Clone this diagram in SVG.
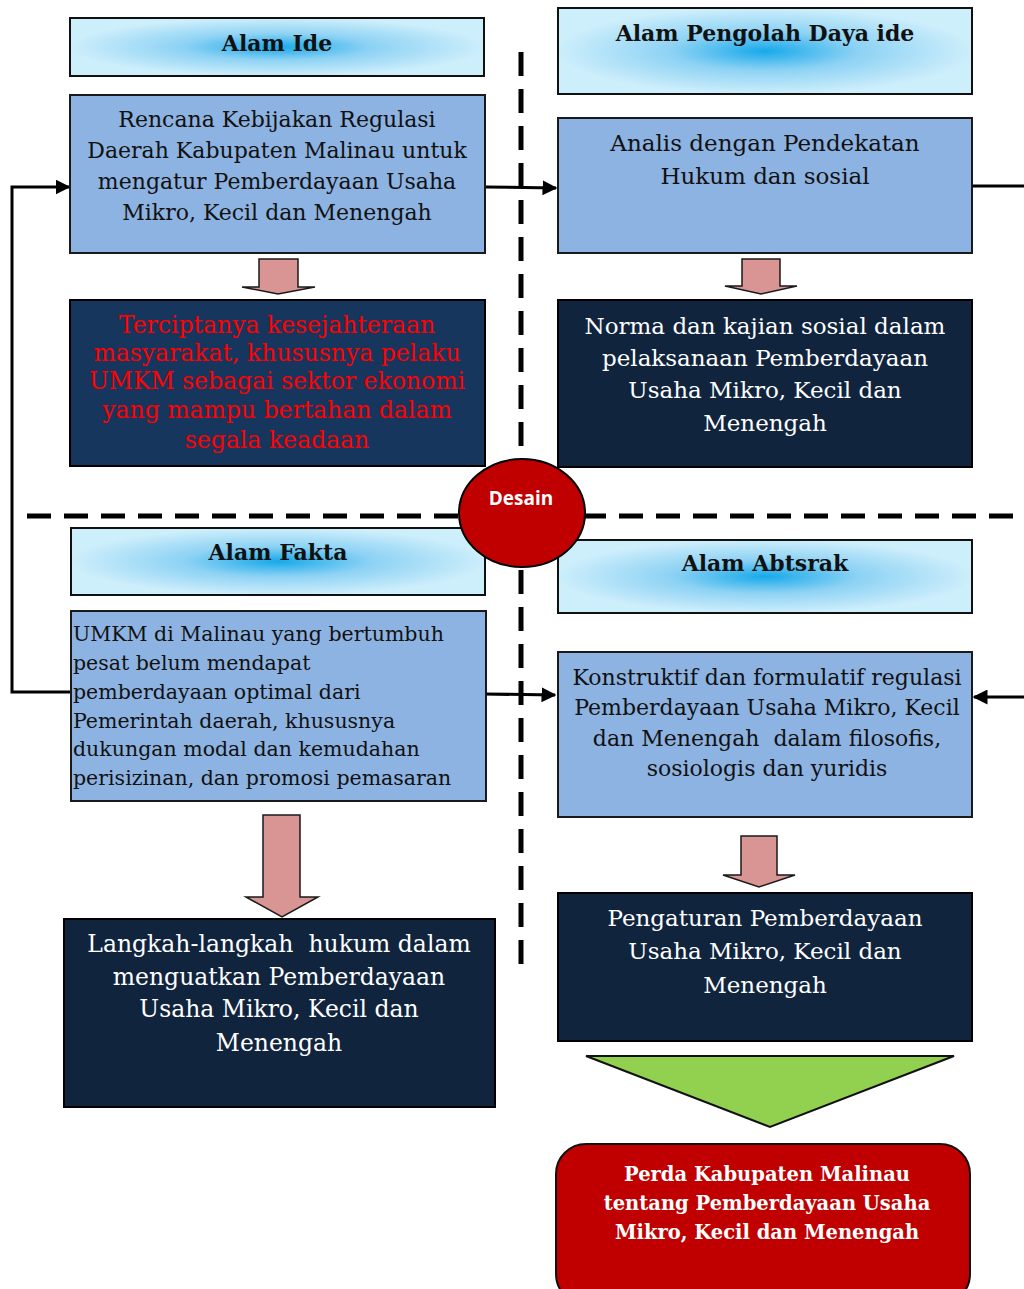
<svg xmlns="http://www.w3.org/2000/svg" width="1024" height="1289" viewBox="0 0 1024 1289">
<defs>
<radialGradient id="hdr" cx="0.5" cy="0.5" r="0.5">
<stop offset="0" stop-color="#17a9ea"/>
<stop offset="0.45" stop-color="#8dd2f4"/>
<stop offset="1" stop-color="#cdeefb"/>
</radialGradient>
<marker id="ah" viewBox="0 0 10 10" refX="9" refY="5" markerWidth="5" markerHeight="5" orient="auto" markerUnits="strokeWidth">
<path d="M0,0 L10,5 L0,10 z" fill="#000"/>
</marker>
<style>
.hdr{fill:url(#hdr);stroke:#111;stroke-width:2}
.lb{fill:#8db3e2;stroke:#1a1a1a;stroke-width:2}
.dk{fill:#10243e;stroke:#000;stroke-width:2}
.ar{fill:#d99594;stroke:#1a1a1a;stroke-width:1.5}
.t{font-family:"DejaVu Serif","Liberation Serif",serif;font-size:22px;text-anchor:middle}
.tb{font-family:"DejaVu Serif","Liberation Serif",serif;font-size:22px;font-weight:bold;text-anchor:middle}
.blk{fill:#111}
.wht{fill:#fff}
.red{fill:#ff0000}
.ln{stroke:#000;stroke-width:3;fill:none}
.dash{stroke:#000;stroke-width:5;stroke-dasharray:24 13;fill:none}
</style>
</defs>

<g id="connectors">
<path class="dash" d="M521,52 V965"/>
<path class="dash" d="M27,516 H1024"/>
<path class="ln" d="M486,187 L556,188" marker-end="url(#ah)"/>
<path class="ln" d="M71,692 H12 V187 H69" marker-end="url(#ah)"/>
<path class="ln" d="M483,694 L555,695" marker-end="url(#ah)"/>
<path class="ln" d="M973,186 H1024"/>
<path class="ln" d="M1024,697 H974" marker-end="url(#ah)"/>
</g>

<g id="alam-ide">
<rect class="hdr" x="70" y="18" width="414" height="58"/>
<text class="tb blk" x="277" y="51">Alam Ide</text>
</g>

<g id="rencana">
<rect class="lb" x="70" y="95" width="415" height="158"/>
<text class="t blk" x="277" y="127">Rencana Kebijakan Regulasi</text>
<text class="t blk" x="277" y="158">Daerah Kabupaten Malinau untuk</text>
<text class="t blk" x="277" y="189">mengatur Pemberdayaan Usaha</text>
<text class="t blk" x="277" y="220">Mikro, Kecil dan Menengah</text>
</g>

<g id="arrow1">
<path class="ar" d="M259,259 H298 V287 H315 L278,294 L242,287 H259 Z"/>
</g>

<g id="terciptanya">
<rect x="70" y="300" width="415" height="166" fill="#17365d" stroke="#000" stroke-width="2"/>
<text class="t red" style="font-size:23.5px" x="277" y="333">Terciptanya kesejahteraan</text>
<text class="t red" style="font-size:23.5px" x="277" y="361">masyarakat, khususnya pelaku</text>
<text class="t red" style="font-size:23.5px" x="277" y="389">UMKM sebagai sektor ekonomi</text>
<text class="t red" style="font-size:23.5px" x="277" y="418">yang mampu bertahan dalam</text>
<text class="t red" style="font-size:23.5px" x="277" y="448">segala keadaan</text>
</g>

<g id="alam-pengolah">
<rect class="hdr" x="558" y="8" width="414" height="86"/>
<text class="tb blk" x="765" y="41">Alam Pengolah Daya ide</text>
</g>

<g id="analis">
<rect class="lb" x="558" y="118" width="414" height="135"/>
<text class="t blk" style="font-size:23px" x="765" y="151">Analis dengan Pendekatan</text>
<text class="t blk" style="font-size:23px" x="765" y="184">Hukum dan sosial</text>
</g>

<g id="arrow2">
<path class="ar" d="M742,259 H780 V286 H797 L761,294 L725,286 H742 Z"/>
</g>

<g id="norma">
<rect class="dk" x="558" y="300" width="414" height="167"/>
<text class="t wht" style="font-size:23px" x="765" y="334">Norma dan kajian sosial dalam</text>
<text class="t wht" style="font-size:23px" x="765" y="366">pelaksanaan Pemberdayaan</text>
<text class="t wht" style="font-size:23px" x="765" y="398">Usaha Mikro, Kecil dan</text>
<text class="t wht" style="font-size:23px" x="765" y="431">Menengah</text>
</g>

<g id="alam-fakta">
<rect class="hdr" x="71" y="528" width="414" height="67"/>
<text class="tb blk" x="278" y="560">Alam Fakta</text>
</g>

<g id="alam-abstrak">
<rect class="hdr" x="558" y="540" width="414" height="73"/>
<text class="tb blk" x="765" y="571">Alam Abtsrak</text>
</g>

<g id="umkm">
<rect class="lb" x="71" y="611" width="415" height="190"/>
<text class="t blk" style="text-anchor:start;font-size:20.5px" x="73" y="641">UMKM di Malinau yang bertumbuh</text>
<text class="t blk" style="text-anchor:start;font-size:20.5px" x="73" y="670">pesat belum mendapat</text>
<text class="t blk" style="text-anchor:start;font-size:20.5px" x="73" y="699">pemberdayaan optimal dari</text>
<text class="t blk" style="text-anchor:start;font-size:20.5px" x="73" y="728">Pemerintah daerah, khususnya</text>
<text class="t blk" style="text-anchor:start;font-size:20.5px" x="73" y="756">dukungan modal dan kemudahan</text>
<text class="t blk" style="text-anchor:start;font-size:20.5px" x="73" y="785">perisizinan, dan promosi pemasaran</text>
</g>

<g id="konstruktif">
<rect class="lb" x="558" y="652" width="414" height="165"/>
<text class="t blk" x="767" y="685">Konstruktif dan formulatif regulasi</text>
<text class="t blk" x="767" y="715">Pemberdayaan Usaha Mikro, Kecil</text>
<text class="t blk" x="767" y="746" xml:space="preserve">dan Menengah  dalam filosofis,</text>
<text class="t blk" x="767" y="776">sosiologis dan yuridis</text>
</g>

<g id="arrow3">
<path class="ar" d="M263,815 H300 V897 H318 L282,917 L246,897 H263 Z"/>
</g>

<g id="langkah">
<rect class="dk" x="64" y="919" width="431" height="188"/>
<text class="t wht" style="font-size:23.5px" x="279" y="952" xml:space="preserve">Langkah-langkah  hukum dalam</text>
<text class="t wht" style="font-size:23.5px" x="279" y="985">menguatkan Pemberdayaan</text>
<text class="t wht" style="font-size:23.5px" x="279" y="1017">Usaha Mikro, Kecil dan</text>
<text class="t wht" style="font-size:23.5px" x="279" y="1051">Menengah</text>
</g>

<g id="arrow4">
<path class="ar" d="M741,836 H777 V875 H795 L759,887 L723,875 H741 Z"/>
</g>

<g id="pengaturan">
<rect class="dk" x="558" y="893" width="414" height="148"/>
<text class="t wht" style="font-size:23px" x="765" y="926">Pengaturan Pemberdayaan</text>
<text class="t wht" style="font-size:23px" x="765" y="959">Usaha Mikro, Kecil dan</text>
<text class="t wht" style="font-size:23px" x="765" y="993">Menengah</text>
</g>

<g id="green-arrow">
<path d="M586,1056 H954 L770,1127 Z" fill="#92d050" stroke="#111" stroke-width="2"/>
</g>

<g id="perda">
<rect x="556" y="1144" width="414" height="160" rx="30" fill="#c00000" stroke="#111" stroke-width="2"/>
<text class="tb wht" style="font-size:19.5px" x="767" y="1181">Perda Kabupaten Malinau</text>
<text class="tb wht" style="font-size:19.5px" x="767" y="1210">tentang Pemberdayaan Usaha</text>
<text class="tb wht" style="font-size:19.5px" x="767" y="1239">Mikro, Kecil dan Menengah</text>
</g>

<g id="desain">
<ellipse cx="522" cy="513" rx="63" ry="54" fill="#c00000" stroke="#000" stroke-width="2"/>
<text x="521" y="505" fill="#fff" font-family="'Open Sans','Liberation Sans',sans-serif" font-size="19" font-weight="bold" text-anchor="middle">Desain</text>
</g>
</svg>
